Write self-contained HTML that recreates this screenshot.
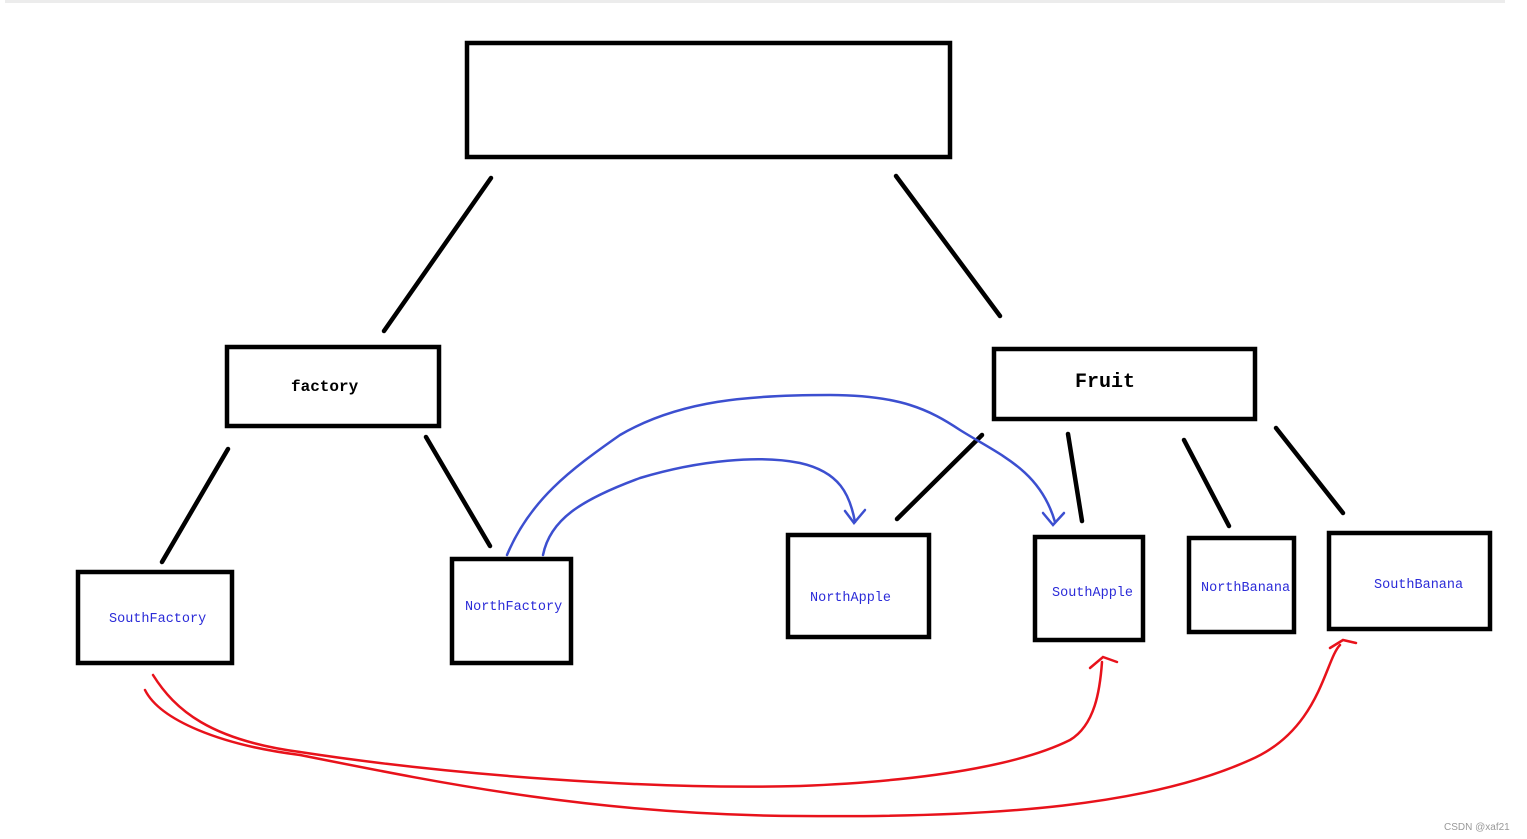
<!DOCTYPE html>
<html><head><meta charset="utf-8"><style>
html,body{margin:0;padding:0;background:#fff;width:1527px;height:839px;overflow:hidden}
svg{display:block}
</style></head><body>
<svg width="1527" height="839" xmlns="http://www.w3.org/2000/svg">
<rect x="5" y="0" width="1500" height="3" fill="#ececec"/>
<g fill="none" stroke="#000" stroke-width="4.5">
<rect x="467" y="43" width="483" height="114"/>
<rect x="227" y="347" width="212" height="79"/>
<rect x="994" y="349" width="261" height="70"/>
<rect x="78" y="572" width="154" height="91"/>
<rect x="452" y="559" width="119" height="104"/>
<rect x="788" y="535" width="141" height="102"/>
<rect x="1035" y="537" width="108" height="103"/>
<rect x="1189" y="538" width="105" height="94"/>
<rect x="1329" y="533" width="161" height="96"/>
<g stroke-linecap="round">
<line x1="491" y1="178" x2="384" y2="331"/>
<line x1="896" y1="176" x2="1000" y2="316"/>
<line x1="228" y1="449" x2="162" y2="562"/>
<line x1="426" y1="437" x2="490" y2="546"/>
<line x1="982" y1="435" x2="897" y2="519"/>
<line x1="1068" y1="434" x2="1082" y2="521"/>
<line x1="1184" y1="440" x2="1229" y2="526"/>
<line x1="1276" y1="428" x2="1343" y2="513"/>
</g>
</g>
<g fill="none" stroke="#3c4fd0" stroke-width="2.5" stroke-linecap="round">
<path d="M507 555 C530 500 570 470 620 435 C680 400 750 395 830 395 C900 395 930 410 960 430 C1000 455 1040 470 1055 522"/>
<path d="M1043 513 L1053 525 L1064 513"/>
<path d="M543 555 C550 520 580 500 640 478 C700 460 760 455 800 463 C840 472 850 495 855 522"/>
<path d="M845 511 L854 523 L865 510"/>
</g>
<g fill="none" stroke="#e8121b" stroke-width="2.5" stroke-linecap="round">
<path d="M153 675 C175 710 210 740 300 752 C450 775 650 790 800 786 C950 780 1030 760 1070 740 C1095 725 1100 690 1102 662"/>
<path d="M1090 668 L1103 657 L1117 662"/>
<path d="M145 690 C160 720 220 745 300 755 C450 785 600 815 800 816 C1000 818 1150 805 1250 760 C1320 730 1325 660 1340 645"/>
<path d="M1330 648 L1343 640 L1356 643"/>
</g>
<g font-family="Liberation Mono, monospace" fill="#2b2bd8" font-size="13.5">
<text x="109" y="622">SouthFactory</text>
<text x="465" y="610">NorthFactory</text>
<text x="810" y="601">NorthApple</text>
<text x="1052" y="596">SouthApple</text>
<text x="1201" y="591">NorthBanana</text>
<text x="1374" y="588">SouthBanana</text>
</g>
<g font-family="Liberation Mono, monospace" fill="#000" font-weight="bold">
<text x="291" y="391" font-size="16">factory</text>
<text x="1075" y="387" font-size="20">Fruit</text>
</g>
<text x="1444" y="830" font-family="Liberation Sans, sans-serif" font-size="10" fill="#999">CSDN @xaf21</text>
</svg>
</body></html>
